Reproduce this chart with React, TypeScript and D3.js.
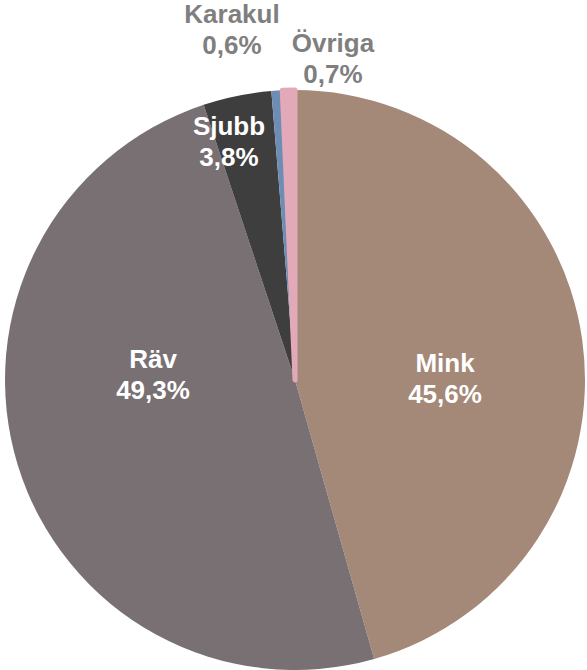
import React from "react";
import * as d3 from "d3";

const categories = ["Mink", "Räv", "Sjubb", "Karakul", "Övriga"];
const values = [45.6, 49.3, 3.8, 0.6, 0.7];
const valueLabels = ["45,6%", "49,3%", "3,8%", "0,6%", "0,7%"];
const colors = ["#A48878", "#787073", "#3F3E3F", "#6E8DB5", "#E2AAB9"];

const W = 587;
const H = 670;
const cx = 295;
const cy = 380;
const R = 290;

// label layout (position, colour) – presentation only
const labelPos: [number, number][] = [
  [445, 372],
  [153, 368],
  [229, 135],
  [232, 23],
  [333, 52],
];
const labelInside = [true, true, true, false, false];

export default function App() {
  const pie = d3
    .pie<number>()
    .sort(null)
    .value((d) => d)(values);
  const arc = d3.arc<d3.PieArcDatum<number>>().innerRadius(0).outerRadius(R);
  const order = [0, 1, 2, 3, 4];
  return (
    <svg
      width={W}
      height={H}
      style={{ position: "absolute", left: 0, top: 0 }}
      fontFamily="'Liberation Sans', Arial, sans-serif"
    >
      <g transform={`translate(${cx},${cy})`}>
        {order.map((i) => (
          <path
            key={i}
            d={arc(pie[i]) || ""}
            fill={colors[i]}
            stroke={i === 4 ? colors[i] : "none"}
            strokeWidth={i === 4 ? 5 : 0}
            strokeLinejoin="round"
          />
        ))}
      </g>
      {categories.map((c, i) => (
        <text
          key={c}
          x={labelPos[i][0]}
          y={labelPos[i][1]}
          textAnchor="middle"
          fontWeight="bold"
          fontSize={26}
          fill={labelInside[i] ? "#FFFFFF" : "#7F7F7F"}
        >
          <tspan x={labelPos[i][0]}>{c}</tspan>
          <tspan x={labelPos[i][0]} dy={31}>
            {valueLabels[i]}
          </tspan>
        </text>
      ))}
    </svg>
  );
}
